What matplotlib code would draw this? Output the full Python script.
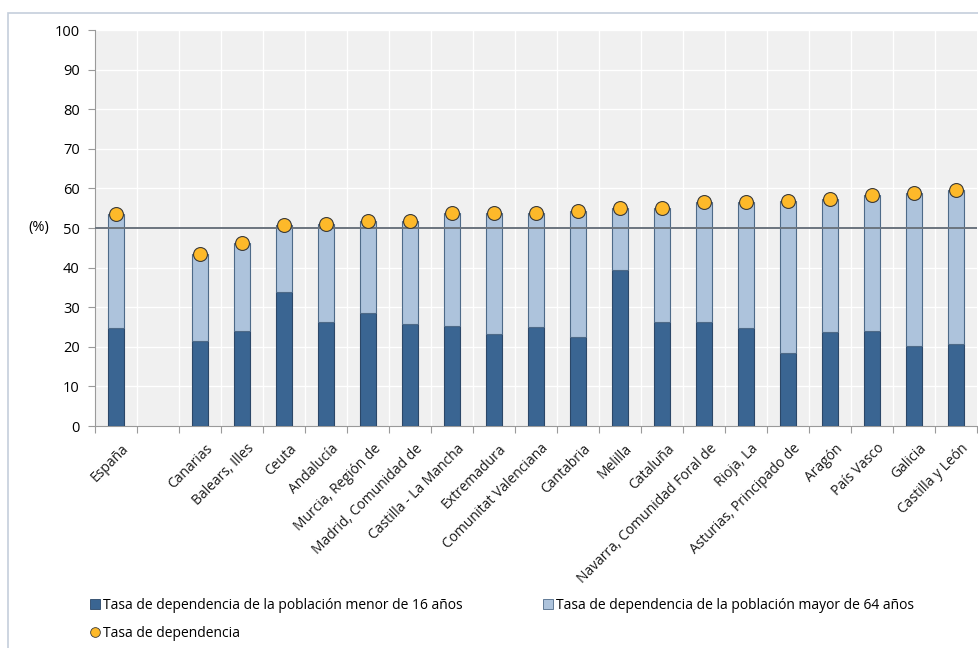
import matplotlib
matplotlib.use("Agg")
import matplotlib.pyplot as plt
from matplotlib.lines import Line2D
from matplotlib.patches import Rectangle
import numpy as np

plt.rcParams['font.family'] = ['Open Sans', 'DejaVu Sans']

categories = ["España", "", "Canarias", "Balears, Illes", "Ceuta", "Andalucía",
              "Murcia, Región de", "Madrid, Comunidad de", "Castilla - La Mancha",
              "Extremadura", "Comunitat Valenciana", "Cantabria", "Melilla",
              "Cataluña", "Navarra, Comunidad Foral de", "Rioja, La",
              "Asturias, Principado de", "Aragón", "País Vasco", "Galicia",
              "Castilla y León"]

menor_16 = [24.7, None, 21.5, 23.9, 33.8, 26.3, 28.5, 25.7, 25.3, 23.2, 24.9,
            22.4, 39.5, 26.3, 26.2, 24.7, 18.4, 23.8, 24.0, 20.2, 20.7]
mayor_64 = [28.8, None, 21.9, 22.4, 16.9, 24.7, 23.2, 26.1, 28.5, 30.6, 29.0,
            32.0, 15.5, 28.8, 30.3, 31.9, 38.3, 33.4, 34.4, 38.7, 38.9]

legend_labels = ["Tasa de dependencia de la población menor de 16 años",
                 "Tasa de dependencia de la población mayor de 64 años",
                 "Tasa de dependencia"]

c_dark = "#3a6592"
c_light = "#adc3dc"
c_edge = "#2b4768"
c_dot = "#fdb92a"

fig = plt.figure(figsize=(9.79, 6.48), dpi=100)
ax = fig.add_axes([95 / 979, 1 - 426 / 648, (977 - 95) / 979, (426 - 30) / 648])

x = np.arange(len(categories))
idx = [i for i, v in enumerate(menor_16) if v is not None]
m16 = np.array([menor_16[i] for i in idx])
m64 = np.array([mayor_64[i] for i in idx])
xs = x[idx]
total = m16 + m64

ax.set_facecolor("#f0f0f0")
ax.bar(xs, m16, width=0.4, color=c_dark, edgecolor=c_edge, linewidth=0.8, zorder=3)
ax.bar(xs, m64, bottom=m16, width=0.4, color=c_light, edgecolor="#4e6a88",
       linewidth=0.8, zorder=3)
ax.axhline(50, color="#6b747e", linewidth=1.4, zorder=4)
ax.scatter(xs, total, s=100, color=c_dot, edgecolor="#3a3a3a", linewidth=0.8, zorder=5)

ax.set_xlim(-0.5, len(categories) - 0.5)
ax.set_ylim(0, 100)
ax.set_yticks(np.arange(0, 101, 10))
ax.tick_params(axis='y', labelsize=10.5, length=5, color="#9a9a9a", pad=6)

# category boundaries carry the ticks and vertical grid lines
bounds = np.arange(-0.5, len(categories) + 0.5, 1.0)
ax.set_xticks(bounds)
ax.set_xticklabels([])
ax.tick_params(axis='x', length=5, color="#9a9a9a")
for b in bounds[1:-1]:
    ax.axvline(b, color="white", linewidth=1.0, zorder=1)
for yv in range(10, 101, 10):
    ax.axhline(yv, color="white", linewidth=1.0, zorder=1)

for i, name in enumerate(categories):
    if name:
        ax.text(i + 0.12, -3.8, name, rotation=45, ha='right', va='top',
                rotation_mode='anchor', fontsize=10, color="#1a1a1a")

for side in ["top", "right"]:
    ax.spines[side].set_visible(False)
ax.spines["left"].set_color("#9a9a9a")
ax.spines["bottom"].set_color("#9a9a9a")

fig.text(28 / 979, 1 - 228 / 648, "(%)", fontsize=10.5, va='center', ha='left')

handles = [
    Line2D([], [], marker='s', linestyle='none', markersize=7,
           markerfacecolor=c_dark, markeredgecolor=c_edge, markeredgewidth=0.6),
    Line2D([], [], marker='o', linestyle='none', markersize=7,
           markerfacecolor=c_dot, markeredgecolor="#3a3a3a", markeredgewidth=0.6),
    Line2D([], [], marker='s', linestyle='none', markersize=7,
           markerfacecolor=c_light, markeredgecolor="#4e6a88", markeredgewidth=0.6),
]
fig.legend(handles, [legend_labels[0], legend_labels[2], legend_labels[1]],
           ncol=2, loc='upper left', bbox_to_anchor=(89 / 979, 1 - 598 / 648),
           frameon=False, fontsize=10, handlelength=0.8, handletextpad=0.2,
           columnspacing=5.75, labelspacing=0.95, borderpad=0, borderaxespad=0)

fig.patches.append(Rectangle((8 / 979, -0.01), 1.0, 1 - 13 / 648 + 0.01,
                             transform=fig.transFigure, fill=False,
                             edgecolor="#c5cedb", linewidth=1.2))

fig.savefig("out.png", dpi=100)
